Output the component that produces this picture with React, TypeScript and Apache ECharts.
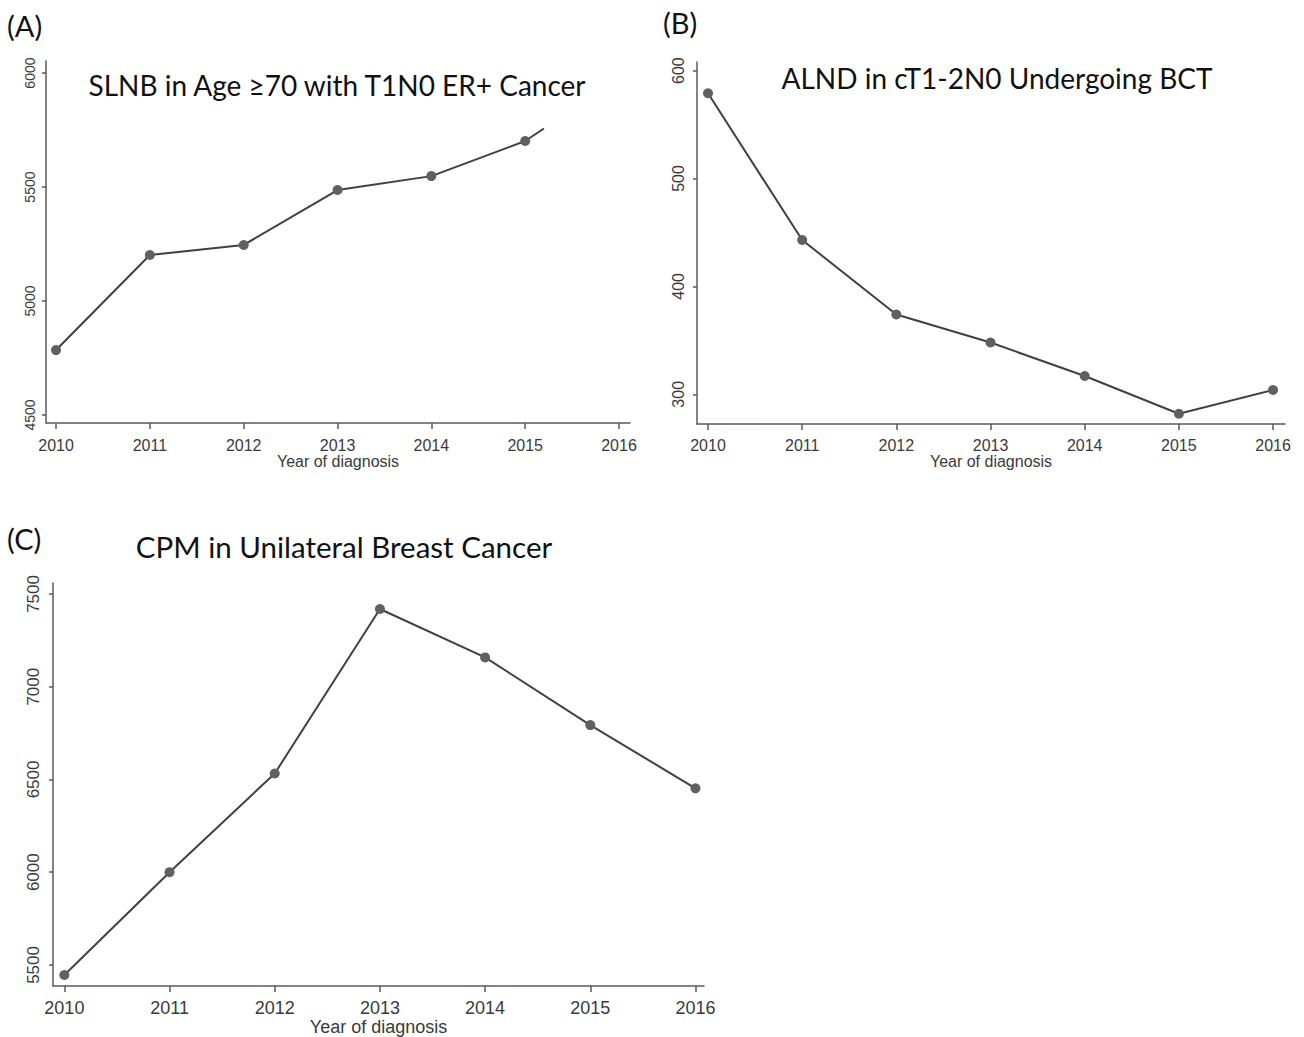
import React, { useEffect, useRef } from "react";
import * as echarts from "echarts";

const years = [2010, 2011, 2012, 2013, 2014, 2015, 2016];
const slnbYears = [2010, 2011, 2012, 2013, 2014, 2015];
const slnbValues = [4785, 5202, 5246, 5487, 5548, 5702];
const slnbTailX = [2015, 2015.2];
const slnbTailY = [5702, 5757];
const alndValues = [579, 443, 374, 348, 317, 282, 304];
const cpmValues = [5446, 6000, 6532, 7419, 7158, 6793, 6452];
const ticksA = [4500, 5000, 5500, 6000];
const ticksB = [300, 400, 500, 600];
const ticksC = [5500, 6000, 6500, 7000, 7500];

const titleA = "SLNB in Age \u226570 with T1N0 ER+ Cancer";
const titleB = "ALND in cT1-2N0 Undergoing BCT";
const titleC = "CPM in Unilateral Breast Cancer";
const xName = "Year of diagnosis";

const AXIS = "#5a5a5a";
const TXT = "#3a3a3a";
const LINE = "#404040";
const DOT = "#606060";
const LABEL_FONT = "'Liberation Sans', Arial, sans-serif";

function xAxisCfg(gridIndex: number, min: number, max: number, fontSize: number, margin: number, nameGap: number) {
  return {
    type: "value",
    gridIndex,
    min,
    max,
    name: xName,
    nameLocation: "middle",
    nameGap,
    nameTextStyle: { color: TXT, fontSize, fontFamily: LABEL_FONT },
    axisLine: { show: true, lineStyle: { color: AXIS, width: 1.5 } },
    axisTick: { show: true, length: 6, lineStyle: { color: AXIS, width: 1.5 }, customValues: years },
    axisLabel: { color: TXT, fontSize, fontFamily: LABEL_FONT, margin, customValues: years, formatter: (v: number) => String(Math.round(v)) },
    splitLine: { show: false },
  };
}

function yAxisCfg(gridIndex: number, min: number, max: number, ticks: number[], fontSize: number, margin: number) {
  return {
    type: "value",
    gridIndex,
    min,
    max,
    axisLine: { show: true, lineStyle: { color: AXIS, width: 1.5 } },
    axisTick: { show: true, length: 4, lineStyle: { color: AXIS, width: 1.5 }, customValues: ticks },
    axisLabel: { color: TXT, fontSize, fontFamily: LABEL_FONT, rotate: 90, margin, customValues: ticks, formatter: (v: number) => String(Math.round(v)) },
    splitLine: { show: false },
  };
}

function lineSeries(idx: number, xs: number[], ys: number[], showSymbol = true) {
  return {
    type: "line",
    xAxisIndex: idx,
    yAxisIndex: idx,
    data: xs.map((x, i) => [x, ys[i]]),
    showSymbol,
    symbol: "circle",
    symbolSize: 10,
    itemStyle: { color: DOT },
    lineStyle: { color: LINE, width: 2 },
    z: showSymbol ? 3 : 2,
  };
}

export default function App() {
  const ref = useRef<HTMLDivElement>(null);
  useEffect(() => {
    if (!ref.current) return;
    const chart = echarts.init(ref.current, undefined, { renderer: "svg" });
    const titleFont = "Lato, 'Open Sans', sans-serif";
    chart.setOption({
      animation: false,
      backgroundColor: "#ffffff",
      grid: [
        { left: 46, top: 61, width: 584, height: 362 },
        { left: 697, top: 62, width: 588, height: 362 },
        { left: 53, top: 583, width: 651, height: 405 },
      ],
      xAxis: [
        xAxisCfg(0, 2009.893, 2016.117, 16, 14, 30),
        xAxisCfg(1, 2009.883, 2016.127, 16, 13, 29),
        xAxisCfg(2, 2009.892, 2016.081, 18, 13, 30),
      ],
      yAxis: [
        yAxisCfg(0, 4465, 6053, ticksA, 14, 9),
        yAxisCfg(1, 272.5, 608, ticksB, 16, 11),
        yAxisCfg(2, 5386, 7559, ticksC, 17, 11),
      ],
      series: [
        lineSeries(0, slnbTailX, slnbTailY, false),
        lineSeries(0, slnbYears, slnbValues),
        lineSeries(1, years, alndValues),
        lineSeries(2, years, cpmValues),
      ],
      graphic: [
        { type: "text", x: 7, y: 25, style: { text: "(A)", fill: "#111", font: `29px ${titleFont}`, textVerticalAlign: "middle" } },
        { type: "text", x: 663, y: 22, style: { text: "(B)", fill: "#111", font: `29px ${titleFont}`, textVerticalAlign: "middle" } },
        { type: "text", x: 7, y: 538, style: { text: "(C)", fill: "#111", font: `29px ${titleFont}`, textVerticalAlign: "middle" } },
        { type: "text", x: 337, y: 85, style: { text: titleA, fill: "#111", font: `28px ${titleFont}`, textAlign: "center", textVerticalAlign: "middle" } },
        { type: "text", x: 997, y: 78, style: { text: titleB, fill: "#111", font: `28px ${titleFont}`, textAlign: "center", textVerticalAlign: "middle" } },
        { type: "text", x: 344, y: 546, style: { text: titleC, fill: "#111", font: `29.5px ${titleFont}`, textAlign: "center", textVerticalAlign: "middle" } },
      ],
    });
    return () => chart.dispose();
  }, []);
  return (
    <div
      ref={ref}
      style={{ position: "absolute", left: 0, top: 0, width: 1304, height: 1037, background: "#fff" }}
    />
  );
}
